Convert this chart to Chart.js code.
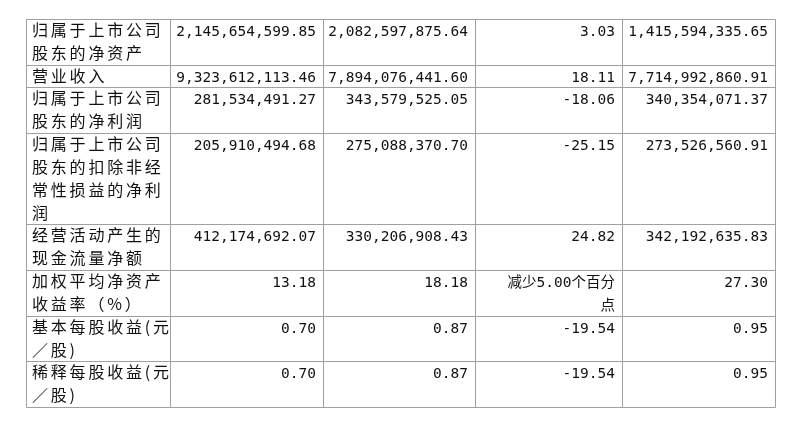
<!DOCTYPE html>
<html>
<head>
<meta charset="utf-8">
<script src="https://cdn.jsdelivr.net/npm/chart.js@4"></script>
<style>
  html, body { margin: 0; padding: 0; background: #fff; }
  #wrap { width: 801px; height: 428px; }
</style>
</head>
<body>
<div id="wrap"><canvas id="tbl"></canvas></div>
<script>
// Row labels (already wrapped as in the picture)
const rowLabels = [
    ['归属于上市公司', '股东的净资产'],
    ['营业收入'],
    ['归属于上市公司', '股东的净利润'],
    ['归属于上市公司', '股东的扣除非经', '常性损益的净利', '润'],
    ['经营活动产生的', '现金流量净额'],
    ['加权平均净资产', '收益率（%）'],
    ['基本每股收益(元', '／股)'],
    ['稀释每股收益(元', '／股)']
];
const col2 = ['2,145,654,599.85', '9,323,612,113.46', '281,534,491.27', '205,910,494.68', '412,174,692.07', '13.18', '0.70', '0.70'];
const col3 = ['2,082,597,875.64', '7,894,076,441.60', '343,579,525.05', '275,088,370.70', '330,206,908.43', '18.18', '0.87', '0.87'];
const col4 = [['3.03'], ['18.11'], ['-18.06'], ['-25.15'], ['24.82'], ['减少5.00个百分', '点'], ['-19.54'], ['-19.54']];
const col5 = ['1,415,594,335.65', '7,714,992,860.91', '340,354,071.37', '273,526,560.91', '342,192,635.83', '27.30', '0.95', '0.95'];

// layout: column widths in px units, lines per row
const colWidths = [144, 153, 152, 147, 153];
const rowLines = rowLabels.map((l, i) => Math.max(l.length, col4[i].length, 2 - (i === 1 ? 1 : 0)));

const colEdges = [0];
colWidths.forEach(w => colEdges.push(colEdges[colEdges.length - 1] + w));
const rowEdges = [0];
rowLines.forEach(n => rowEdges.push(rowEdges[rowEdges.length - 1] + n));

const tablePlugin = {
    id: 'tablePlugin',
    afterDraw(chart) {
        const ctx = chart.ctx;
        const x = chart.scales.x, y = chart.scales.y;
        const px = v => Math.round(x.getPixelForValue(v)) + 0.5;
        const py = v => Math.round(y.getPixelForValue(v)) + 0.5;
        const lineH = y.getPixelForValue(1) - y.getPixelForValue(0);
        ctx.save();
        ctx.strokeStyle = '#a0a0a0';
        ctx.lineWidth = 1;
        rowEdges.forEach(r => {
            ctx.beginPath(); ctx.moveTo(px(0), py(r)); ctx.lineTo(px(colEdges[5]), py(r)); ctx.stroke();
        });
        colEdges.forEach(c => {
            ctx.beginPath(); ctx.moveTo(px(c), py(0)); ctx.lineTo(px(c), py(rowEdges[rowEdges.length - 1])); ctx.stroke();
        });
        ctx.fillStyle = '#111';
        ctx.textBaseline = 'alphabetic';
        const cjk = '16px "Noto Sans CJK SC"';
        const num = '14.5px "DejaVu Sans Mono", "Noto Sans CJK SC"';
        rowLabels.forEach((lines, i) => {
            const top = y.getPixelForValue(rowEdges[i]);
            ctx.font = cjk;
            ctx.letterSpacing = '2.8px';
            ctx.textAlign = 'left';
            lines.forEach((t, k) => ctx.fillText(t, x.getPixelForValue(colEdges[0]) + 6, top + 17 + k * lineH));
            ctx.textAlign = 'right';
            ctx.letterSpacing = '0px';
            ctx.font = num;
            const right = c => x.getPixelForValue(colEdges[c + 1]) - 7;
            ctx.fillText(col2[i], right(1), top + 17);
            ctx.fillText(col3[i], right(2), top + 17);
            col4[i].forEach((t, k) => ctx.fillText(t, right(3), top + 17 + k * lineH));
            ctx.fillText(col5[i], right(4), top + 17);
        });
        ctx.restore();
    }
};

new Chart(document.getElementById('tbl'), {
    type: 'scatter',
    data: { datasets: [{ data: [] }] },
    options: {
        responsive: true,
        maintainAspectRatio: false,
        animation: false,
        layout: { padding: { left: 26, right: 26, top: 19, bottom: 21 } },
        scales: {
            x: { type: 'linear', min: 0, max: colEdges[5], display: false },
            y: { type: 'linear', min: 0, max: rowEdges[rowEdges.length - 1], reverse: true, display: false }
        },
        plugins: { legend: { display: false }, tooltip: { enabled: false } }
    },
    plugins: [tablePlugin]
});
</script>
</body>
</html>
